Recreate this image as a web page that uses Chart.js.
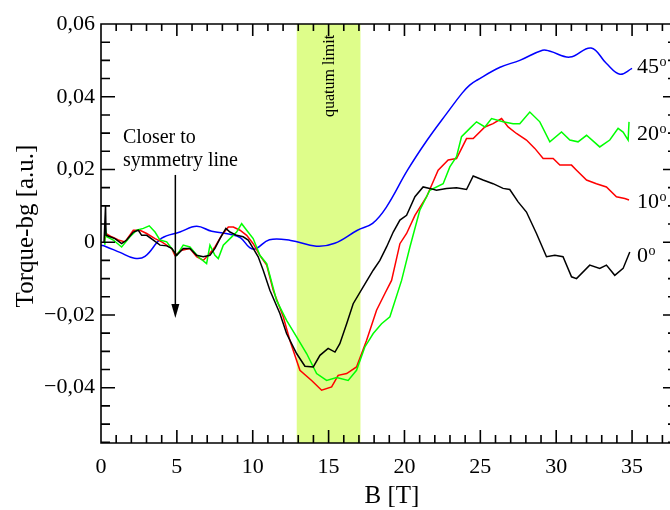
<!DOCTYPE html>
<html>
<head>
<meta charset="utf-8">
<script src="https://cdn.jsdelivr.net/npm/chart.js@4.4.0/dist/chart.umd.min.js"></script>
<style>
  body { margin: 0; background: #fff; }
  canvas { display: block; }
</style>
</head>
<body>
<canvas id="torque" width="670" height="510"></canvas>
<script>
'use strict';
//___________DATA__________________
var xTicks = [0, 5, 10, 15, 20, 25, 30, 35];
var yTicks = [-0.04, -0.02, 0, 0.02, 0.04, 0.06];
var bandB = [12.9, 17.1];

// 45 deg (blue)
var b45 = [0, 0.26, 1.25, 2.2, 2.9, 4.0, 5.2, 6.3, 7.3, 8.5, 9.2, 9.8, 10.2, 11.1, 12.5, 14.2, 15.4, 16.9, 17.9, 18.8, 20.2, 21.5, 22.8, 23.8, 24.3, 24.8, 26.3, 27.6, 29.1, 29.6, 30.9, 32.3, 33.3, 34.2, 35.0];
var t45 = [-0.0008, -0.0011, -0.0028, -0.0044, -0.0039, 0.0011, 0.0028, 0.0044, 0.0030, 0.0022, 0.0012, -0.0015, -0.0018, 0.0007, 0.0005, -0.0011, -0.0003, 0.0033, 0.0052, 0.0096, 0.0198, 0.0281, 0.0355, 0.0410, 0.0432, 0.0446, 0.0481, 0.0500, 0.0528, 0.0525, 0.0509, 0.0534, 0.0492, 0.0462, 0.0478];

// 20 deg (green)
var b20 = [0.20, 0.26, 0.38, 0.81, 1.36, 1.91, 2.35, 2.79, 3.18, 3.56, 3.89, 4.33, 4.66, 4.99, 5.42, 5.86, 6.41, 6.96, 7.18, 7.51, 7.73, 8.06, 8.50, 8.94, 9.27, 9.60, 10.03, 10.47, 10.92, 11.57, 12.23, 12.89, 13.55, 14.21, 14.87, 15.53, 16.29, 16.84, 17.39, 17.94, 18.49, 19.04, 19.81, 20.36, 21.01, 21.67, 22.55, 22.99, 23.43, 23.76, 24.31, 24.75, 25.30, 25.74, 26.50, 27.16, 27.60, 28.26, 28.92, 29.58, 30.35, 30.90, 31.44, 32.00, 32.87, 33.53, 34.08, 34.41, 34.74, 34.80];
var t20 = [-0.0005, 0.0047, 0.0015, 0.0006, -0.0013, 0.0015, 0.0033, 0.0038, 0.0045, 0.0028, 0.0006, 0.0001, -0.0017, -0.0036, -0.0008, -0.0013, -0.0040, -0.0059, -0.0008, -0.0036, -0.0045, -0.0008, 0.0010, 0.0028, 0.0051, 0.0033, 0.0010, -0.0036, -0.0059, -0.0160, -0.0215, -0.0260, -0.0306, -0.0361, -0.0380, -0.0372, -0.0380, -0.0352, -0.0288, -0.0251, -0.0224, -0.0205, -0.0105, -0.0013, 0.0088, 0.0143, 0.0161, 0.0207, 0.0235, 0.0290, 0.0313, 0.0331, 0.0317, 0.0340, 0.0331, 0.0326, 0.0326, 0.0358, 0.0331, 0.0276, 0.0303, 0.0281, 0.0276, 0.0294, 0.0262, 0.0281, 0.0313, 0.0303, 0.0281, 0.0331];

// 10 deg (red)
var b10 = [0.25, 0.33, 0.70, 1.14, 1.58, 2.13, 2.57, 3.01, 3.56, 4.00, 4.66, 4.87, 5.32, 5.86, 6.30, 6.74, 7.07, 7.51, 7.95, 8.39, 8.72, 9.16, 9.60, 10.03, 10.47, 10.92, 11.35, 12.01, 12.45, 13.11, 13.88, 14.54, 15.20, 15.63, 16.19, 16.84, 17.50, 18.16, 18.71, 19.15, 19.70, 20.14, 20.69, 21.46, 22.22, 22.88, 23.43, 24.09, 24.53, 25.30, 25.84, 26.40, 26.83, 27.38, 28.04, 28.59, 29.14, 29.80, 30.24, 31.01, 31.34, 32.00, 32.65, 33.31, 33.97, 34.52, 34.80];
var t10 = [0.0005, 0.0024, 0.0015, 0.0006, 0.0001, 0.0033, 0.0033, 0.0024, 0.0010, 0.0001, -0.0017, -0.0036, -0.0022, -0.0017, -0.0040, -0.0050, -0.0036, -0.0013, 0.0019, 0.0042, 0.0042, 0.0033, 0.0019, -0.0004, -0.0036, -0.0063, -0.0132, -0.0205, -0.0270, -0.0352, -0.0380, -0.0407, -0.0398, -0.0366, -0.0361, -0.0343, -0.0270, -0.0187, -0.0141, -0.0105, -0.0004, 0.0024, 0.0074, 0.0125, 0.0198, 0.0226, 0.0230, 0.0285, 0.0285, 0.0317, 0.0326, 0.0340, 0.0317, 0.0299, 0.0281, 0.0258, 0.0230, 0.0230, 0.0212, 0.0212, 0.0198, 0.0171, 0.0161, 0.0152, 0.0125, 0.0120, 0.0116];

// 0 deg (black)
var b0 = [0.2, 0.3, 0.33, 0.59, 0.92, 1.36, 1.69, 2.13, 2.46, 2.68, 3.01, 3.45, 3.89, 4.33, 4.66, 4.99, 5.42, 5.86, 6.30, 6.74, 7.18, 7.51, 7.84, 8.23, 8.50, 8.94, 9.37, 9.70, 10.03, 10.36, 10.69, 11.13, 11.79, 12.23, 12.89, 13.44, 13.99, 14.43, 14.97, 15.42, 15.74, 16.19, 16.62, 17.28, 17.94, 18.38, 18.82, 19.26, 19.70, 20.14, 20.69, 21.23, 21.67, 22.11, 22.77, 23.43, 24.09, 24.53, 25.18, 25.84, 26.50, 26.94, 27.49, 28.04, 28.70, 29.36, 29.91, 30.45, 31.01, 31.34, 32.21, 32.87, 33.31, 33.86, 34.41, 34.85];
var t0 = [0.0000, 0.0102, 0.0019, 0.0015, 0.0010, -0.0004, 0.0006, 0.0028, 0.0033, 0.0019, 0.0019, 0.0006, -0.0008, -0.0010, -0.0017, -0.0036, -0.0017, -0.0017, -0.0036, -0.0040, -0.0036, -0.0017, 0.0010, 0.0038, 0.0028, 0.0019, 0.0015, 0.0006, -0.0017, -0.0040, -0.0077, -0.0132, -0.0196, -0.0251, -0.0306, -0.0341, -0.0343, -0.0311, -0.0292, -0.0302, -0.0279, -0.0224, -0.0169, -0.0123, -0.0077, -0.0050, -0.0013, 0.0028, 0.0061, 0.0074, 0.0125, 0.0152, 0.0148, 0.0143, 0.0148, 0.0150, 0.0145, 0.0182, 0.0171, 0.0161, 0.0148, 0.0145, 0.0111, 0.0083, 0.0024, -0.0040, -0.0036, -0.0040, -0.0095, -0.0100, -0.0063, -0.0072, -0.0063, -0.0091, -0.0072, -0.0027];

var SERIF = '"Liberation Serif", "DejaVu Serif", serif';

function toPoints(bs, ts){
  var pts = [];
  for(var i = 0; i < bs.length; i++){
    pts.push({x: bs[i], y: ts[i]});
  }
  return pts;
}

function fmtY(v){
  if(Math.abs(v) < 1e-9) return '0';
  return (v < 0 ? '\u2212' : '') + Math.abs(v).toFixed(2).replace('.', ',');
}

//___________BAND + FRAME + TEXTS PLUGIN__________________
var decor = {
  id: 'decor',
  beforeDatasetsDraw: function(chart){
    var ctx = chart.ctx, a = chart.chartArea, xs = chart.scales.x;
    var x1 = xs.getPixelForValue(bandB[0]), x2 = xs.getPixelForValue(bandB[1]);
    ctx.save();
    ctx.fillStyle = '#defd8a';
    ctx.fillRect(x1, a.top, x2 - x1, a.bottom - a.top);
    ctx.restore();
  },
  afterDraw: function(chart){
    var ctx = chart.ctx, a = chart.chartArea, xs = chart.scales.x, ys = chart.scales.y;
    var i, px, py, len;
    ctx.save();
    ctx.strokeStyle = '#000';
    ctx.lineWidth = 1.6;
    ctx.beginPath();
    ctx.moveTo(a.right + 2, a.top);
    ctx.lineTo(a.left, a.top);
    ctx.lineTo(a.left, a.bottom);
    ctx.lineTo(a.right + 2, a.bottom);
    // x ticks, every 1 T, inward
    for(i = 0; i <= 37; i++){
      px = xs.getPixelForValue(i);
      len = (i % 5 === 0) ? 13 : 8;
      ctx.moveTo(px, a.bottom); ctx.lineTo(px, a.bottom - len);
      ctx.moveTo(px, a.top); ctx.lineTo(px, a.top + len - 1);
    }
    // y ticks, every 0.005, inward
    for(i = -11; i <= 12; i++){
      py = ys.getPixelForValue(i * 0.005);
      len = (i % 4 === 0) ? 14 : 9;
      ctx.moveTo(a.left, py); ctx.lineTo(a.left + len, py);
      ctx.moveTo(a.right, py); ctx.lineTo(a.right - len + 7, py);
    }
    ctx.stroke();

    // arrow
    var ax = xs.getPixelForValue(4.9);
    var ay1 = ys.getPixelForValue(0.0185), ay2 = ys.getPixelForValue(-0.0208);
    ctx.lineWidth = 1.5;
    ctx.beginPath();
    ctx.moveTo(ax, ay1); ctx.lineTo(ax, ay2 - 10);
    ctx.stroke();
    ctx.fillStyle = '#000';
    ctx.beginPath();
    ctx.moveTo(ax, ay2); ctx.lineTo(ax - 4, ay2 - 14); ctx.lineTo(ax + 4, ay2 - 14);
    ctx.closePath();
    ctx.fill();

    // texts
    ctx.fillStyle = '#000';
    ctx.textBaseline = 'alphabetic';
    ctx.textAlign = 'left';
    ctx.font = '20px ' + SERIF;
    ctx.fillText('Closer to', 123, 143);
    ctx.fillText('symmetry line', 123, 166);

    // degree labels
    var degs = [['45', 73], ['20', 140], ['10', 208], ['0', 262]];
    for(i = 0; i < degs.length; i++){
      ctx.font = '22px ' + SERIF;
      ctx.fillText(degs[i][0], 637, degs[i][1]);
      var w = ctx.measureText(degs[i][0]).width;
      ctx.font = '14px ' + SERIF;
      ctx.fillText('o', 637 + w + 0.5, degs[i][1] - 7);
    }

    // quatum limit
    ctx.save();
    ctx.translate(xs.getPixelForValue(15.05), 76);
    ctx.rotate(-Math.PI / 2);
    ctx.textAlign = 'center';
    ctx.textBaseline = 'middle';
    ctx.font = '16px ' + SERIF;
    ctx.fillText('quatum limit', 0, 0);
    ctx.restore();

    // axis titles
    ctx.font = '25px ' + SERIF;
    ctx.textAlign = 'center';
    ctx.textBaseline = 'middle';
    ctx.fillText('B [T]', 392, 496);
    ctx.save();
    ctx.translate(26, 226);
    ctx.rotate(-Math.PI / 2);
    ctx.fillText('Torque-bg [a.u.]', 0, 0);
    ctx.restore();
    ctx.restore();
  }
};

//___________CHART__________________
function lineSet(label, bs, ts, color, tension){
  return {
    label: label,
    data: toPoints(bs, ts),
    borderColor: color,
    borderWidth: 1.5,
    pointRadius: 0,
    fill: false,
    tension: tension
  };
}

var ctx = document.getElementById('torque').getContext('2d');
new Chart(ctx, {
  type: 'line',
  data: {
    datasets: [
      lineSet('0\u00b0', b0, t0, '#000000', 0),
      lineSet('20\u00b0', b20, t20, '#00ff00', 0),
      lineSet('10\u00b0', b10, t10, '#ff0000', 0),
      lineSet('45\u00b0', b45, t45, '#0000ff', 0.4)
    ]
  },
  options: {
    responsive: false,
    animation: false,
    layout: {padding: {top: 24, left: 0, right: 0, bottom: 0}},
    plugins: {legend: {display: false}, tooltip: {enabled: false}},
    scales: {
      x: {
        type: 'linear',
        min: 0,
        max: 37.5,
        afterBuildTicks: function(s){ s.ticks = xTicks.map(function(v){ return {value: v}; }); },
        afterFit: function(s){ s.height = 67; },
        grid: {display: false, drawTicks: false},
        border: {display: false},
        ticks: {color: '#000', padding: 11, maxRotation: 0, font: {family: SERIF, size: 22}}
      },
      y: {
        type: 'linear',
        min: -0.0552,
        max: 0.06,
        afterBuildTicks: function(s){ s.ticks = yTicks.map(function(v){ return {value: v}; }); },
        afterFit: function(s){ s.width = 101; },
        grid: {display: false, drawTicks: false},
        border: {display: false},
        ticks: {color: '#000', padding: 6, font: {family: SERIF, size: 22}, callback: fmtY}
      }
    }
  },
  plugins: [decor]
});//END of CHART
</script>
</body>
</html>
